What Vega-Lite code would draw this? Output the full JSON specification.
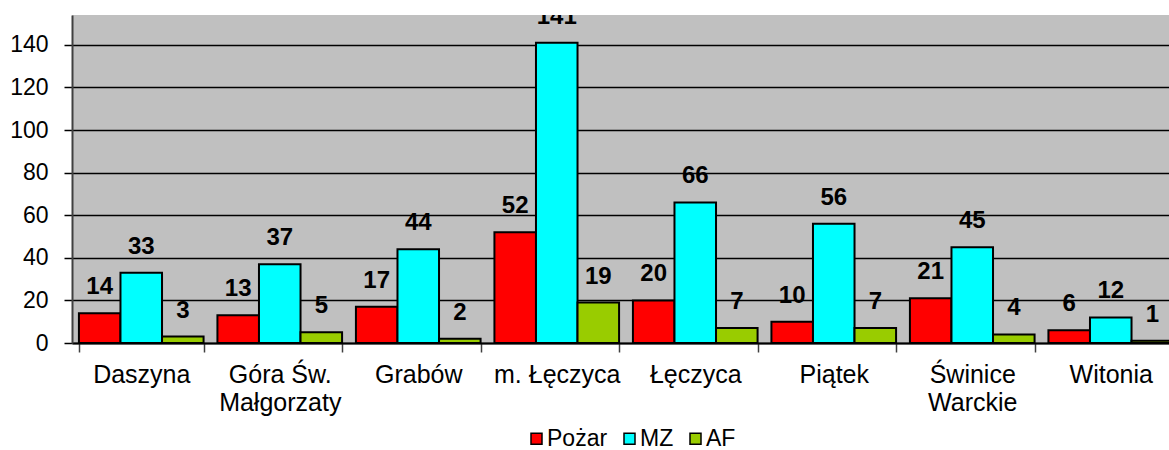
{
  "$schema": "https://vega.github.io/schema/vega-lite/v6.json",
  "autosize": {"type": "none"},
  "padding": {"left": 72, "top": 15, "right": 0, "bottom": 107},
  "width": 1108,
  "height": 328,
  "background": "white",
  "config": {
    "view": {"fill": "#C0C0C0", "stroke": null},
    "font": "Liberation Sans"
  },
  "data": {
    "values": [
      {"gmina": "Daszyna", "typ": "Pożar", "liczba": 14},
      {"gmina": "Daszyna", "typ": "MZ", "liczba": 33},
      {"gmina": "Daszyna", "typ": "AF", "liczba": 3},
      {"gmina": "Góra Św.|Małgorzaty", "typ": "Pożar", "liczba": 13},
      {"gmina": "Góra Św.|Małgorzaty", "typ": "MZ", "liczba": 37},
      {"gmina": "Góra Św.|Małgorzaty", "typ": "AF", "liczba": 5},
      {"gmina": "Grabów", "typ": "Pożar", "liczba": 17},
      {"gmina": "Grabów", "typ": "MZ", "liczba": 44},
      {"gmina": "Grabów", "typ": "AF", "liczba": 2},
      {"gmina": "m. Łęczyca", "typ": "Pożar", "liczba": 52},
      {"gmina": "m. Łęczyca", "typ": "MZ", "liczba": 141},
      {"gmina": "m. Łęczyca", "typ": "AF", "liczba": 19},
      {"gmina": "Łęczyca", "typ": "Pożar", "liczba": 20},
      {"gmina": "Łęczyca", "typ": "MZ", "liczba": 66},
      {"gmina": "Łęczyca", "typ": "AF", "liczba": 7},
      {"gmina": "Piątek", "typ": "Pożar", "liczba": 10},
      {"gmina": "Piątek", "typ": "MZ", "liczba": 56},
      {"gmina": "Piątek", "typ": "AF", "liczba": 7},
      {"gmina": "Świnice|Warckie", "typ": "Pożar", "liczba": 21},
      {"gmina": "Świnice|Warckie", "typ": "MZ", "liczba": 45},
      {"gmina": "Świnice|Warckie", "typ": "AF", "liczba": 4},
      {"gmina": "Witonia", "typ": "Pożar", "liczba": 6},
      {"gmina": "Witonia", "typ": "MZ", "liczba": 12},
      {"gmina": "Witonia", "typ": "AF", "liczba": 1}
    ]
  },
  "encoding": {
    "x": {
      "field": "gmina",
      "type": "nominal",
      "sort": null,
      "scale": {"paddingInner": 0.1, "paddingOuter": 0.05},
      "axis": {
        "title": null,
        "labelAngle": 0,
        "labelExpr": "split(datum.label, '|')",
        "labelFontSize": 25,
        "labelColor": "#000000",
        "labelPadding": 10,
        "labelLineHeight": 28,
        "tickBand": "extent",
        "tickSize": 9,
        "tickColor": "#404040",
        "tickWidth": 1.5,
        "domainColor": "#000000",
        "domainWidth": 2,
        "grid": false
      }
    },
    "xOffset": {"field": "typ", "type": "nominal", "sort": ["Pożar", "MZ", "AF"], "scale": {"paddingInner": 0, "paddingOuter": 0}},
    "y": {
      "field": "liczba",
      "type": "quantitative",
      "scale": {"domain": [0, 154], "nice": false},
      "axis": {
        "title": null,
        "values": [0, 20, 40, 60, 80, 100, 120, 140],
        "labelFontSize": 23,
        "labelColor": "#000000",
        "labelPadding": 16,
        "tickSize": 8,
        "tickColor": "#000000",
        "tickWidth": 1.5,
        "domainColor": "#404040",
        "domainWidth": 2,
        "grid": true,
        "gridColor": "#000000",
        "gridWidth": 1.5,
        "gridOpacity": 1
      }
    }
  },
  "layer": [
    {
      "mark": {"type": "bar", "stroke": "#000000", "strokeWidth": 2},
      "encoding": {
        "color": {
          "field": "typ",
          "type": "nominal",
          "sort": ["Pożar", "MZ", "AF"],
          "scale": {"domain": ["Pożar", "MZ", "AF"], "range": ["#FF0000", "#00FFFF", "#99CC00"]},
          "legend": {
            "title": null,
            "orient": "none",
            "legendX": 453,
            "legendY": 412,
            "direction": "horizontal",
            "symbolType": "square",
            "symbolSize": 121,
            "symbolStrokeColor": "#000000",
            "symbolStrokeWidth": 1.5,
            "symbolOpacity": 1,
            "labelFontSize": 23,
            "labelColor": "#000000",
            "labelOffset": -1,
            "columnPadding": 10
          }
        }
      }
    },
    {
      "mark": {"type": "text", "baseline": "bottom", "dy": -14, "fontSize": 24, "fontWeight": "bold", "color": "#000000", "clip": true},
      "encoding": {
        "text": {"field": "liczba", "type": "quantitative"}
      }
    }
  ]
}
